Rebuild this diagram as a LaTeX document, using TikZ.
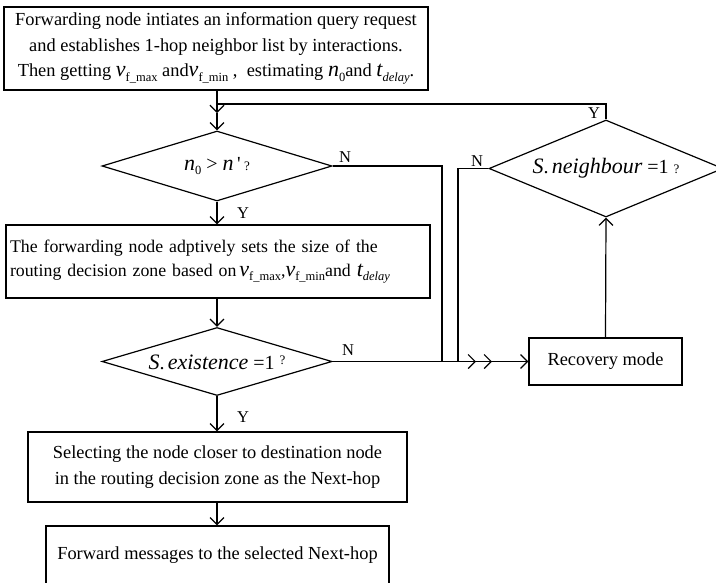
\documentclass[tikz,border=0pt]{standalone}
\usepackage{fontspec}
\setmainfont{Liberation Serif}
\usetikzlibrary{arrows.meta,shapes.geometric}
\newcommand{\mi}[1]{{\fontsize{22}{22}\selectfont\itshape #1}}
\newcommand{\sbs}[1]{\raisebox{-4.5pt}{\fontsize{12.5}{12.5}\selectfont #1}}
\newcommand{\vmax}{\mi{v}\sbs{f\_max}}
\newcommand{\vmin}{\mi{v}\sbs{f\_min}}
\newcommand{\tdel}{\mi{t}\sbs{\itshape delay}}
\newcommand{\nz}{\mi{n}\sbs{0}}
\newcommand{\qm}{{\fontsize{13}{13}\selectfont ?}}
\begin{document}
\begin{tikzpicture}[x=1pt,y=-1pt,line width=1.2pt,
  box/.style={draw,rectangle,inner sep=0pt,font=\fontsize{18.4}{25.5}\selectfont,align=center},
  dia/.style={draw,diamond,inner sep=0pt},
  dtext/.style={inner sep=0pt,font=\fontsize{20}{20}\selectfont},
  arr/.style={-{Straight Barb[length=7pt,width=14pt]}},
  lab/.style={inner sep=0pt,font=\fontsize{16.5}{16.5}\selectfont}]
\useasboundingbox (0,0) rectangle (716,582);

\node[box,minimum width=424pt,minimum height=83pt] (top) at (216,48.5)
 {Forwarding node intiates an information query request\\
  and establishes 1-hop neighbor list by interactions.\\
  Then getting \vmax\ and\vmin\ ,\ \ estimating \nz and \tdel.};

\coordinate (j) at (217,113);
\coordinate (jl) at (217,104);

\node[dia,minimum width=230pt,minimum height=70pt] (d1) at (217,166) {};
\node[dtext] (d1t) at (d1.center) {\nz\ > \mi{n}\,\textquotesingle\,\qm};

\node[dia,minimum width=234pt,minimum height=97pt] (d2) at (606,168.5) {};
\node[dtext] (d2t) at (d2.center) {\mi{S}.\,\mi{neighbour} =1 \qm};

\node[box,minimum width=424pt,minimum height=73pt,text width=416pt,inner xsep=4pt,align=left,font=\fontsize{17.8}{24}\selectfont] (b2) at (218,261.5)
 {The forwarding node adptively sets the size of the\\
  routing decision zone based on\,\vmax,\vmin and \tdel};

\node[dia,minimum width=230pt,minimum height=68pt] (d3) at (217,361.5) {};
\node[dtext] (d3t) at ([yshift=-1pt]d3.center) {\mi{S}.\,\mi{existence} =1 \raisebox{5pt}{\qm}};

\node[box,minimum width=153pt,minimum height=47pt] (rec) at (605.5,361.5) {Recovery mode};

\node[box,minimum width=379pt,minimum height=70pt] (b4) at (217.5,467)
 {Selecting the node closer to destination node\\
  in the routing decision zone as the Next-hop};

\node[box,minimum width=343pt,minimum height=58pt] (b5) at (217.5,555)
 {Forward messages to the selected Next-hop};

\coordinate (n1) at (442,361.5);
\coordinate (t1) at (476,361.5);
\coordinate (n2) at (458,361.5);
\coordinate (t2) at (492,361.5);

\draw[arr] (top.south -| j) -- (j);
\draw[arr] (j) -- (d1.north);
\draw (d2.north) |- (jl);
\draw[arr] (d1.south) -- (d1.south |- b2.north);
\draw[arr] (d1.south |- b2.south) -- (d3.north);
\draw[arr] (d3.south) -- (d3.south |- b4.north);
\draw[arr] (d3.south |- b4.south) -- (d3.south |- b5.north);
\draw[arr] (d3.east) -- (rec.west);
\draw[arr] (rec.north) -- (d2.south);
\draw[arr] (d1.east) -| (n1) -- (t1);
\draw[arr] (d2.west) -| (n2) -- (t2);

\node[lab] (l1) at (345,157) {N};
\node[lab] (l2) at (243,213) {Y};
\node[lab] (l3) at (477,161) {N};
\node[lab] (l4) at (594,113) {Y};
\node[lab] (l5) at (348,350) {N};
\node[lab] (l6) at (243,417) {Y};
\end{tikzpicture}
\end{document}
